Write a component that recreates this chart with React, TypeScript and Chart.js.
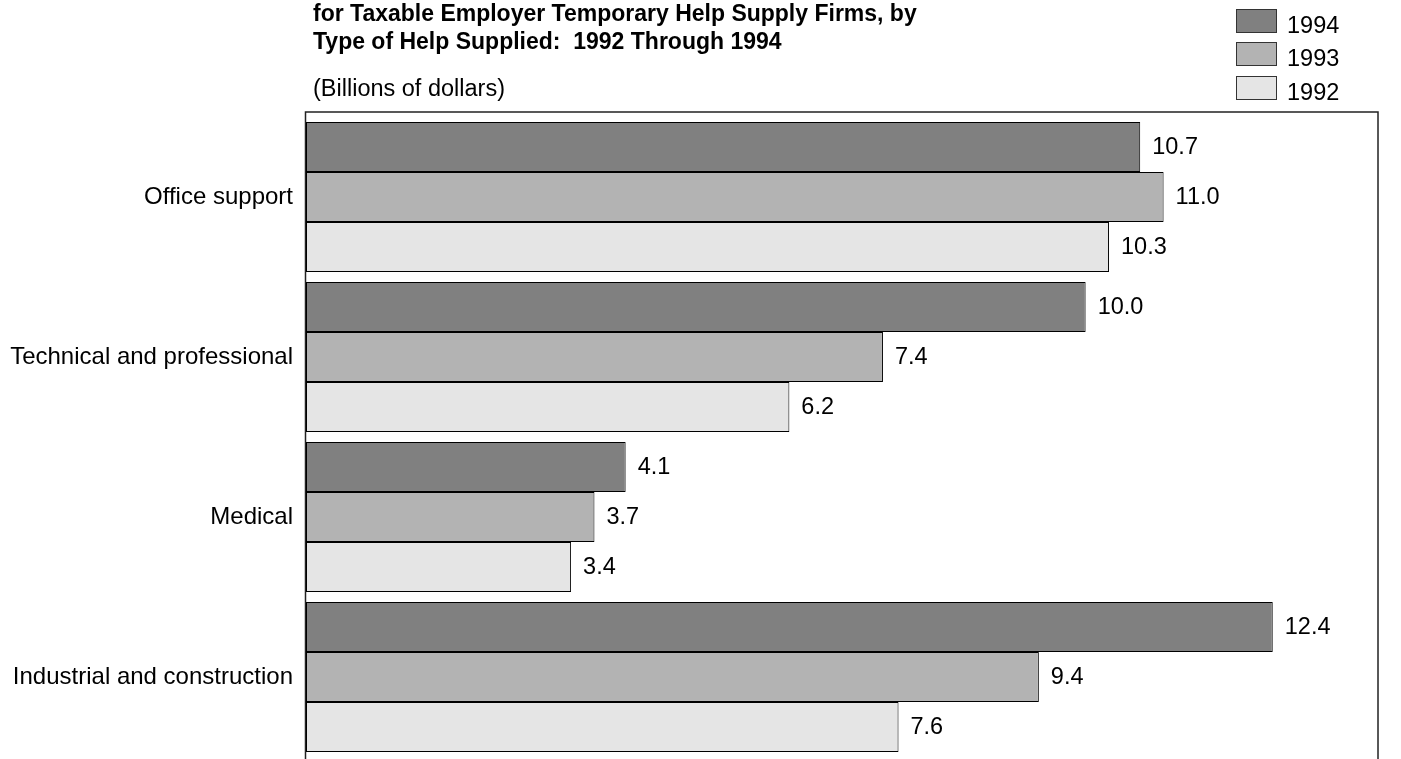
import React, { useEffect, useRef } from "react";
import { Chart, registerables } from "chart.js";

Chart.register(...registerables);

const categories = [
  "Office support",
  "Technical and professional",
  "Medical",
  "Industrial and construction",
];
const seriesNames = ["1994", "1993", "1992"];
const values1994 = [10.7, 10.0, 4.1, 12.4];
const values1993 = [11.0, 7.4, 3.7, 9.4];
const values1992 = [10.3, 6.2, 3.4, 7.6];
const seriesColors = ["#808080", "#b3b3b3", "#e5e5e5"];
const titleLines = [
  "for Taxable Employer Temporary Help Supply Firms, by",
  "Type of Help Supplied:  1992 Through 1994",
];
const subtitle = "(Billions of dollars)";

const FONT = "'Liberation Sans', Arial, Helvetica, sans-serif";

export default function App() {
  const ref = useRef<HTMLCanvasElement | null>(null);

  useEffect(() => {
    if (!ref.current) return;

    const decor = {
      id: "decor",
      beforeDatasetsDraw(chart: any) {
        const { ctx, chartArea } = chart;
        ctx.save();
        ctx.strokeStyle = "#222";
        ctx.lineWidth = 1.5;
        ctx.strokeRect(
          chartArea.left - 0.5,
          chartArea.top - 5,
          chartArea.right - chartArea.left + 0.5,
          chartArea.bottom - chartArea.top + 10
        );
        ctx.restore();
      },
      afterDatasetsDraw(chart: any) {
        const { ctx } = chart;
        ctx.save();
        ctx.font = `23.5px ${FONT}`;
        ctx.fillStyle = "#000";
        ctx.textAlign = "left";
        ctx.textBaseline = "middle";
        chart.data.datasets.forEach((ds: any, i: number) => {
          const meta = chart.getDatasetMeta(i);
          meta.data.forEach((el: any, j: number) => {
            ctx.fillText(Number(ds.data[j]).toFixed(1), el.x + 12, el.y + 1);
          });
        });
        ctx.restore();
      },
      afterDraw(chart: any) {
        const { ctx } = chart;
        ctx.save();
        ctx.fillStyle = "#000";
        ctx.textAlign = "left";
        ctx.textBaseline = "alphabetic";
        ctx.font = `bold 23px ${FONT}`;
        ctx.fillText(titleLines[0], 313, 21);
        ctx.fillText(titleLines[1], 313, 49);
        ctx.font = `23.5px ${FONT}`;
        ctx.fillText(subtitle, 313, 96);
        // legend
        const boxTops = [9, 42, 76];
        chart.data.datasets.forEach((ds: any, i: number) => {
          const y = boxTops[i];
          ctx.fillStyle = ds.backgroundColor;
          ctx.fillRect(1236, y, 41, 24);
          ctx.strokeStyle = "#333";
          ctx.lineWidth = 1;
          ctx.strokeRect(1236.5, y + 0.5, 40, 23);
          ctx.fillStyle = "#000";
          ctx.font = `23.5px ${FONT}`;
          ctx.fillText(ds.label, 1287, y + 24);
        });
        ctx.restore();
      },
    };

    const chart = new Chart(ref.current, {
      type: "bar",
      data: {
        labels: categories,
        datasets: [values1994, values1993, values1992].map((vals, i) => ({
          label: seriesNames[i],
          data: vals,
          backgroundColor: seriesColors[i],
          borderColor: "#000",
          borderWidth: 1,
          borderSkipped: false,
          categoryPercentage: 0.9375,
          barPercentage: 1,
        })),
      },
      options: {
        indexAxis: "y",
        responsive: false,
        animation: false,
        devicePixelRatio: 1,
        layout: { padding: { top: 117, left: 0, right: 23, bottom: 30 } },
        plugins: {
          legend: { display: false },
          title: { display: false },
          tooltip: { enabled: false },
        },
        scales: {
          x: { display: false, min: 0, max: 13.75 },
          y: {
            type: "category",
            grid: { display: false, drawTicks: false },
            border: { display: false },
            ticks: {
              color: "#000",
              padding: 13,
              font: { family: FONT, size: 24 },
            },
            afterFit: (s: any) => {
              s.width = 306;
            },
          },
        },
      },
      plugins: [decor],
    } as any);

    return () => chart.destroy();
  }, []);

  return (
    <div
      style={{
        position: "fixed",
        left: 0,
        top: 0,
        width: 1401,
        height: 759,
        overflow: "hidden",
        background: "#fff",
      }}
    >
      <canvas ref={ref} width={1401} height={787} style={{ display: "block" }} />
    </div>
  );
}
